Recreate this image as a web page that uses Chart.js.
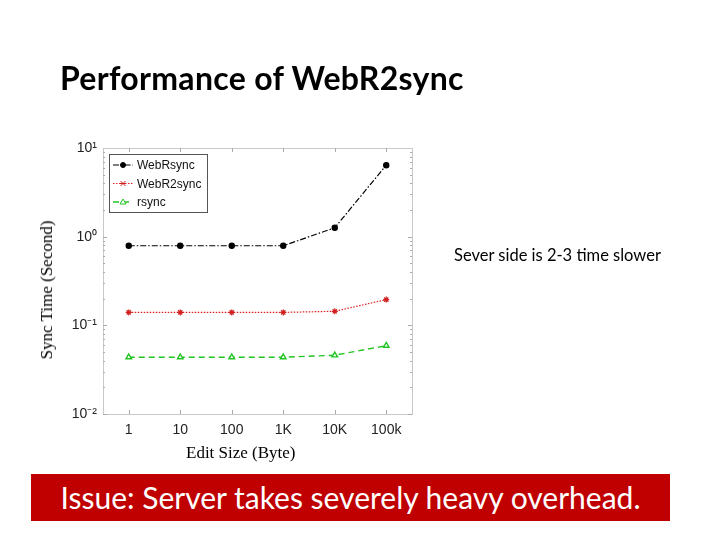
<!DOCTYPE html>
<html><head><meta charset="utf-8">
<script src="https://cdn.jsdelivr.net/npm/chart.js@4/dist/chart.umd.min.js"></script>
<style>
html,body{margin:0;padding:0;background:#fff;}
#wrap{position:relative;width:720px;height:540px;overflow:hidden;}
#c{position:absolute;left:0;top:0;}
.t{position:absolute;white-space:nowrap;}
#title{left:60px;top:58px;font-family:Lato,'Open Sans',sans-serif;font-weight:bold;font-size:32px;color:#000;letter-spacing:0.3px;}
#ylab{left:47px;top:290px;font-family:'Liberation Serif','DejaVu Serif',serif;font-size:17px;transform:translate(-50%,-50%) rotate(-90deg);}
#xlab{left:186px;top:443px;font-family:'Liberation Serif','DejaVu Serif',serif;font-size:17px;}
#note{left:454px;top:245px;font-family:Lato,'Open Sans',sans-serif;font-size:16.5px;}
#banner{position:absolute;left:31px;top:474px;width:639px;height:47px;background:#c00000;color:#fff;font-family:Lato,'Open Sans',sans-serif;font-size:30px;text-align:center;line-height:47px;white-space:nowrap;}
</style></head>
<body><div id="wrap">
<canvas id="c" width="720" height="540"></canvas>
<div class="t" id="title">Performance of WebR2sync</div>
<div class="t" id="ylab">Sync Time (Second)</div>
<div class="t" id="xlab">Edit Size (Byte)</div>
<div class="t" id="note">Sever side is 2-3 time slower</div>
<div id="banner">Issue: Server takes severely heavy overhead.</div>
</div>
<script>
const categories = ['1','10','100','1K','10K','100k'];
const webRsync   = [0.79, 0.79, 0.79, 0.79, 1.26, 6.4];
const webR2sync  = [0.14, 0.14, 0.14, 0.14, 0.144, 0.195];
const rsyncVals  = [0.0437, 0.0437, 0.0437, 0.0437, 0.046, 0.059];
const seriesNames = ['WebRsync','WebR2sync','rsync'];
const yTickLabels = {'10':'10\u00b9','1':'10\u2070','0.1':'10\u207b\u00b9','0.01':'10\u207b\u00b2'};

const boxPlugin = {
  id:'box',
  afterDatasetsDraw(chart){
    const {ctx, chartArea:a} = chart;
    ctx.save();
    ctx.strokeStyle='#c8c8c8'; ctx.lineWidth=1;
    ctx.strokeRect(a.left+0.5,a.top+0.5,a.right-a.left,a.bottom-a.top);
    const y = chart.scales.y, x = chart.scales.x;
    ctx.strokeStyle='#aaa';
    [0.01,0.1,1].forEach(d=>{for(let k=1;k<=9;k++){const v=d*k;const py=Math.round(y.getPixelForValue(v))+0.5;
      const L = k===1?4:2;
      ctx.beginPath();ctx.moveTo(a.right-L,py);ctx.lineTo(a.right,py);ctx.stroke();
      ctx.beginPath();ctx.moveTo(a.left,py);ctx.lineTo(a.left+L,py);ctx.stroke();}});
    categories.forEach((c,i)=>{const px=Math.round(x.getPixelForValue(i))+0.5;
      ctx.beginPath();ctx.moveTo(px,a.top);ctx.lineTo(px,a.top+4);ctx.stroke();
      ctx.beginPath();ctx.moveTo(px,a.bottom);ctx.lineTo(px,a.bottom-4);ctx.stroke();});
    // legend
    const lx=a.left+6, ly=a.top+6, lw=98, lh=58;
    ctx.fillStyle='#fff'; ctx.fillRect(lx,ly,lw,lh);
    ctx.strokeStyle='#555'; ctx.strokeRect(lx+0.5,ly+0.5,lw,lh);
    ctx.font='12px "Liberation Sans", Arial, sans-serif';
    ctx.textBaseline='middle';
    chart.data.datasets.forEach((ds,i)=>{
      const yy=ly+11+i*18.5;
      ctx.strokeStyle=ds.borderColor; ctx.lineWidth=ds.borderWidth;
      ctx.setLineDash(ds.borderDash||[]);
      ctx.beginPath();ctx.moveTo(lx+4,yy);ctx.lineTo(lx+24,yy);ctx.stroke();
      ctx.setLineDash([]);
      ctx.lineWidth=1;
      const px=lx+14;
      ctx.fillStyle=ds.pointBackgroundColor; ctx.strokeStyle=ds.pointBorderColor;
      if(ds.pointStyle==='circle'){ctx.beginPath();ctx.arc(px,yy,2.5,0,Math.PI*2);ctx.fill();ctx.stroke();}
      else if(ds.pointStyle==='star'){ctx.beginPath();ctx.moveTo(px-2.5,yy-2.5);ctx.lineTo(px+2.5,yy+2.5);ctx.moveTo(px+2.5,yy-2.5);ctx.lineTo(px-2.5,yy+2.5);ctx.moveTo(px-3,yy);ctx.lineTo(px+3,yy);ctx.stroke();}
      else {ctx.beginPath();ctx.moveTo(px,yy-3);ctx.lineTo(px+3,yy+2);ctx.lineTo(px-3,yy+2);ctx.closePath();ctx.fillStyle='#fff';ctx.fill();ctx.stroke();}
      ctx.fillStyle='#111'; ctx.fillText(seriesNames[i], lx+28, yy+1);
    });
    ctx.restore();
  }
};

new Chart(document.getElementById('c'),{
  type:'line',
  data:{labels:categories,datasets:[
    {label:seriesNames[0],data:webRsync,borderColor:'#000',borderWidth:1.2,borderDash:[6,2,1.5,2],pointStyle:'circle',pointRadius:2.6,pointBackgroundColor:'#000',pointBorderColor:'#000',tension:0},
    {label:seriesNames[1],data:webR2sync,borderColor:'#e02020',borderWidth:1.2,borderDash:[1.5,1.5],pointStyle:'star',pointRadius:3,pointBackgroundColor:'#e02020',pointBorderColor:'#d02020',tension:0},
    {label:seriesNames[2],data:rsyncVals,borderColor:'#22c422',borderWidth:1.4,borderDash:[6,4],pointStyle:'triangle',pointRadius:3.2,pointBackgroundColor:'#fff',pointBorderColor:'#22c422',tension:0}
  ]},
  options:{
    responsive:false,animation:false,
    layout:{padding:{left:43,right:308,top:148,bottom:96}},
    plugins:{legend:{display:false},tooltip:{enabled:false},title:{display:false}},
    scales:{
      x:{type:'category',offset:true,grid:{display:false,drawTicks:false},border:{display:true,color:'#c8c8c8'},
        ticks:{color:'#222',padding:8,font:{family:'"Liberation Sans", Arial, sans-serif',size:14}},
        afterFit(s){s.height=30;}},
      y:{type:'logarithmic',min:0.01,max:10,grid:{display:false,drawTicks:false},border:{display:true,color:'#c8c8c8'},
        ticks:{color:'#222',padding:6,autoSkip:false,font:{family:'"Liberation Sans", Arial, sans-serif',size:14},
          callback(v){const k=String(Number(v.toPrecision(3)));return yTickLabels[k]||'';}},
        afterBuildTicks(s){s.ticks=[{value:0.01},{value:0.1},{value:1},{value:10}];},
        afterFit(s){s.width=60;}}
    }
  },
  plugins:[boxPlugin]
});
</script>
</body></html>
